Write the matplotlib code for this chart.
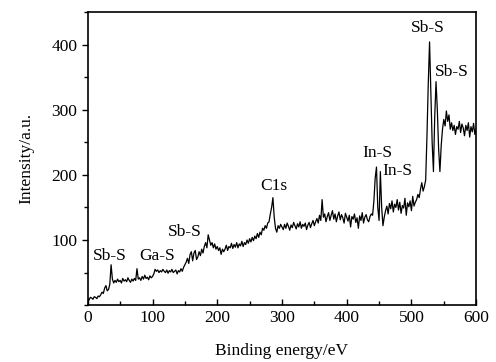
import numpy as np
import matplotlib
matplotlib.use('Agg')
import matplotlib.pyplot as plt
from matplotlib.ticker import MultipleLocator

# XPS survey spectrum at 2 eV steps (0..600 eV)
energy = np.arange(0, 601, 2)
intensity = [
    10, 8, 12, 11, 9, 13, 12, 10, 14, 13, 16,                      # 0-20
    20, 18, 26, 30, 22, 24, 32,                                    # 22-34
    62, 40, 34,                                                    # 36-40
    38, 35, 40, 36, 38, 34, 41, 37, 39, 36, 42, 38, 35, 40, 37, 41, 38,  # 42-74
    56, 40,                                                        # 76-78
    42, 38, 44, 40, 46, 41, 43, 39, 45, 42, 44,                    # 80-100
    48, 55, 52, 54, 50, 53, 51, 55, 52, 50, 54, 49, 53, 51, 55, 50,
    52, 54, 48, 53, 51, 56, 52,                                    # 102-146
    58, 62, 66, 72, 64, 78, 82, 68, 80, 84, 70, 74, 82, 76, 86, 80,
    90, 96, 88, 108,                                               # 148-186
    100, 92, 96, 88, 94, 86, 90, 84, 88, 78, 86, 82,               # 188-210
    86, 92, 84, 90, 88, 95, 87, 93, 89, 96, 88, 94, 91, 98, 90, 96,
    93, 100, 95, 102, 97, 104, 99, 106, 102, 110, 104, 112, 108, 118,  # 212-270
    115, 122, 118, 126, 128, 140, 150, 165,                        # 272-286
    135, 118, 112, 122, 118, 124,                                  # 288-298
    120, 116, 124, 118, 126, 121, 115, 123, 119, 127, 122, 117, 125,
    120, 128, 118, 124, 121, 126, 116, 123, 127, 119, 125, 130, 122,
    128, 133, 126, 138, 130,                                       # 300-360
    162, 135, 140, 128,                                            # 362-368
    136, 142, 130, 138, 145, 132, 140, 128, 137, 143, 131, 139, 134,
    126, 141, 135, 129, 138, 120, 136, 132, 140, 127, 134, 118, 137,
    130, 142, 126, 135, 139, 131, 128, 136, 140, 138,              # 370-440
    160, 195, 212, 150, 130, 205, 150, 122, 135,                   # 442-458
    145, 152, 140, 156, 148, 160, 143, 155, 150, 162, 146, 158, 141,
    153, 149, 164, 138, 157, 151, 160, 145, 167, 152, 158, 162, 170,
    165, 178, 188,                                                 # 460-516
    175, 182, 192, 260, 340, 404, 330, 250, 205, 290, 343, 300, 240,
    205, 245, 270, 285, 275, 298, 282, 292, 270,                   # 518-560
    280, 268, 276, 262, 274, 270, 282, 265, 278, 272, 260, 276, 268,
    280, 258, 274, 266, 279, 262, 270,                             # 562-600
]

peak_labels = ["Sb-S", "Ga-S", "Sb-S", "C1s", "In-S", "In-S", "Sb-S", "Sb-S"]
label_x = [34, 107, 150, 288, 447, 479, 526, 563]
label_y = [75, 75, 112, 183, 234, 206, 426, 358]

plt.rcParams['font.family'] = 'Liberation Serif'
plt.rcParams['font.size'] = 12.5

fig = plt.figure(figsize=(4.96, 3.62), dpi=100)
ax = fig.add_axes([0.177, 0.157, 0.783, 0.81])
ax.plot(energy, intensity, color='black', linewidth=0.9)

for txt, lx, ly in zip(peak_labels, label_x, label_y):
    ax.text(lx, ly, txt, ha='center', va='center')

ax.set_xlim(0, 600)
ax.set_ylim(0, 450)
ax.xaxis.set_major_locator(MultipleLocator(100))
ax.xaxis.set_minor_locator(MultipleLocator(50))
ax.yaxis.set_major_locator(MultipleLocator(100))
ax.yaxis.set_minor_locator(MultipleLocator(50))
ax.set_yticks([100, 200, 300, 400])
ax.tick_params(axis='x', which='both', direction='in')
ax.tick_params(axis='y', which='both', direction='out')
ax.tick_params(which='major', length=4, width=1)
ax.tick_params(which='minor', length=3, width=1)
for s in ax.spines.values():
    s.set_linewidth(1.2)

ax.set_xlabel('Binding energy/eV', labelpad=12)
ax.set_ylabel('Intensity/a.u.', labelpad=12)

fig.savefig('out.png', dpi=100)
